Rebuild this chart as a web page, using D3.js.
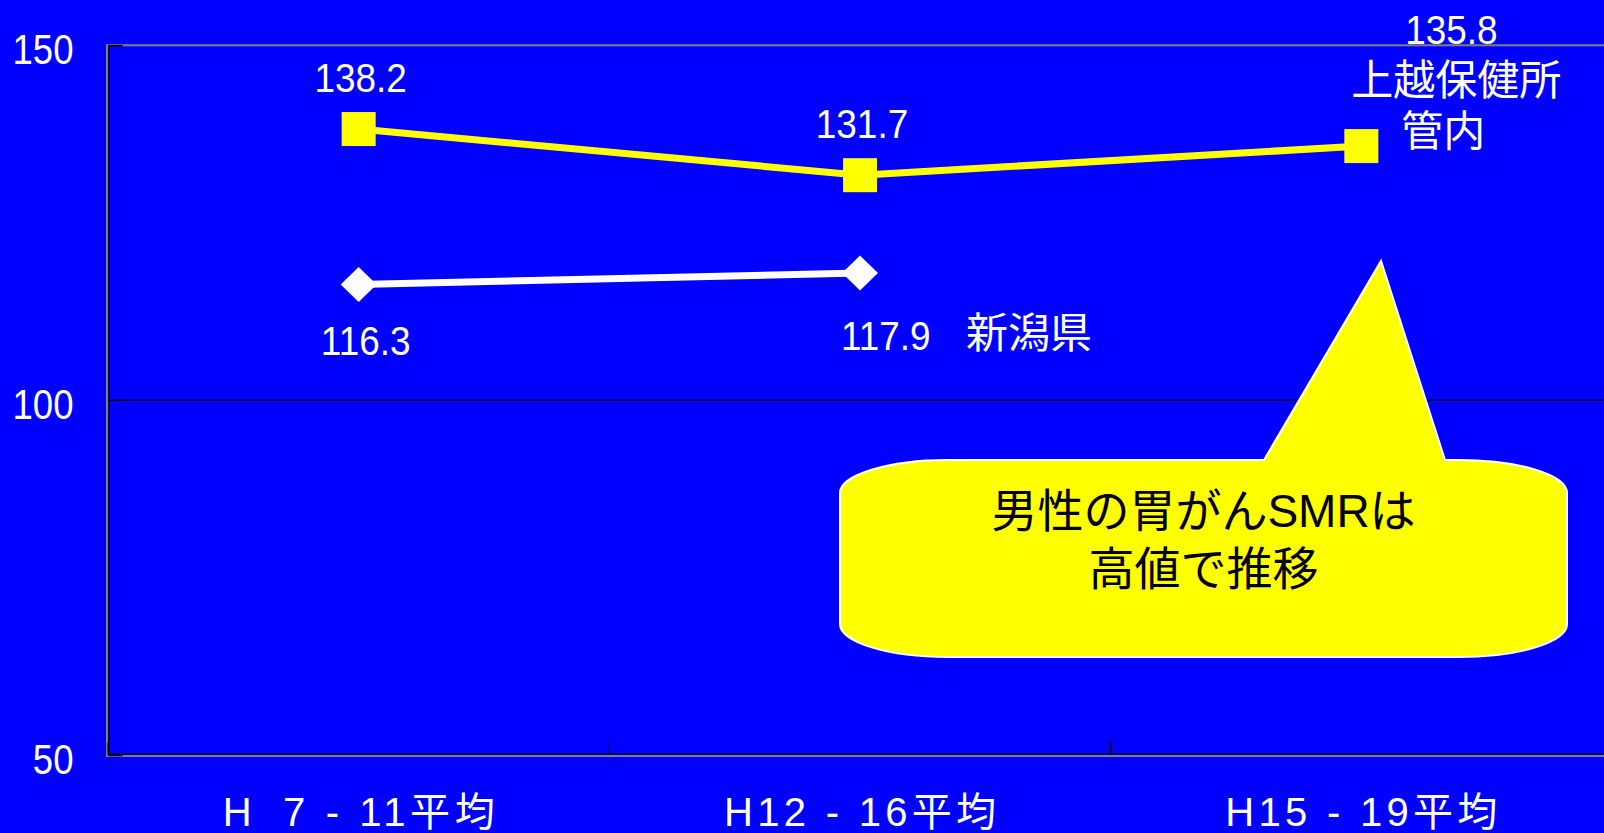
<!DOCTYPE html>
<html><head><meta charset="utf-8">
<script src="https://cdn.jsdelivr.net/npm/d3@7"></script>
<style>
html,body{margin:0;padding:0;background:#0000FF;overflow:hidden}
svg{display:block}
text{font-family:"Liberation Sans",Arial,"Noto Sans CJK JP",sans-serif}
</style></head><body>
<svg id="chart" width="1604" height="833"></svg>
<script>
// ---- data ----
const categories = ["H\u20077 - 11平均", "H12 - 16平均", "H15 - 19平均"];
const joetsuValues = [138.2, 131.7, 135.8];
const niigataValues = [116.3, 117.9, null];
const joetsuNameLines = ["上越保健所", "管内"];
const niigataName = "新潟県";
const yTicks = [50, 100, 150];
const calloutLines = ["男性の胃がんSMRは", "高値で推移"];

// ---- layout ----
const W = 1604, H = 833;
const plot = {left: 108, top: 45.3, right: 1612, bottom: 755};
const FONT = '"Liberation Sans", Arial, "Noto Sans CJK JP", sans-serif';
const BLUE = "#0000FF", YELLOW = "#FFFF00", WHITE = "#FFFFFF";

const svg = d3.select("#chart");
svg.append("rect").attr("width", W).attr("height", H).attr("fill", BLUE);

const x = d3.scaleBand().domain(categories).range([plot.left, plot.right]);
const y = d3.scaleLinear().domain([50, 150]).range([plot.bottom, plot.top]);
const cx = c => x(c) + x.bandwidth() / 2;

function squeeze(sel, f) {
  sel.each(function () {
    const w = this.getComputedTextLength();
    this.setAttribute("textLength", w * f);
    this.setAttribute("lengthAdjust", "spacingAndGlyphs");
  });
}

// frame
svg.append("rect")
  .attr("x", plot.left - 1).attr("y", plot.top)
  .attr("width", plot.right - plot.left + 1).attr("height", plot.bottom - plot.top + 1)
  .attr("fill", "none").attr("stroke", "#808080").attr("stroke-width", 2);

// gridline at 100
svg.append("line")
  .attr("x1", plot.left).attr("x2", plot.right)
  .attr("y1", y(100)).attr("y2", y(100))
  .attr("stroke", "#000").attr("stroke-width", 1.2);

// y axis
const yAxis = svg.append("g")
  .attr("transform", `translate(${plot.left + 0.5},0)`)
  .call(d3.axisLeft(y).tickValues(yTicks).tickSize(-14).tickPadding(35).tickFormat(d3.format("d")));
yAxis.select(".domain").attr("stroke", "#000").attr("stroke-width", 1.5);
yAxis.selectAll(".tick line").attr("stroke", "#000");
yAxis.selectAll("text")
  .attr("fill", WHITE).attr("font-size", 42).attr("font-family", FONT).attr("dy", 18);
squeeze(yAxis.selectAll("text"), 0.87);

// x axis baseline (black) and boundary ticks
svg.append("line")
  .attr("x1", plot.left).attr("x2", plot.right)
  .attr("y1", plot.bottom - 1).attr("y2", plot.bottom - 1)
  .attr("stroke", "#000").attr("stroke-width", 1.2);
const bounds = categories.map(c => x(c)).concat([plot.right]);
svg.selectAll(".xbound").data(bounds).enter().append("line")
  .attr("x1", d => d).attr("x2", d => d)
  .attr("y1", plot.bottom).attr("y2", plot.bottom - 13)
  .attr("stroke", "#000").attr("stroke-width", 1.2);

// x labels
const xAxis = svg.append("g")
  .attr("transform", `translate(0,${plot.bottom})`)
  .call(d3.axisBottom(x).tickSize(0).tickPadding(0));
xAxis.select(".domain").remove();
xAxis.selectAll("text")
  .attr("fill", WHITE).attr("font-size", 40).attr("font-family", FONT)
  .attr("y", 71).attr("dy", 0)
  .attr("textLength", 272).attr("lengthAdjust", "spacing")
  .style("white-space", "pre");

// lines
const lineGen = d3.line()
  .defined(d => d.v != null)
  .x(d => cx(d.c)).y(d => y(d.v));
const joetsu = categories.map((c, i) => ({c, v: joetsuValues[i]}));
const niigata = categories.map((c, i) => ({c, v: niigataValues[i]}));

svg.append("path").datum(niigata).attr("d", lineGen)
  .attr("fill", "none").attr("stroke", WHITE).attr("stroke-width", 7);
svg.append("path").datum(joetsu).attr("d", lineGen)
  .attr("fill", "none").attr("stroke", YELLOW).attr("stroke-width", 7);

// markers
svg.selectAll(".sq").data(joetsu.filter(d => d.v != null)).enter().append("rect")
  .attr("x", d => cx(d.c) - 17).attr("y", d => y(d.v) - 17)
  .attr("width", 34).attr("height", 34).attr("fill", YELLOW);
svg.selectAll(".dm").data(niigata.filter(d => d.v != null)).enter().append("path")
  .attr("d", d => {
    const px = cx(d.c), py = y(d.v);
    return `M${px},${py - 17.5}L${px + 18},${py}L${px},${py + 17.5}L${px - 18},${py}Z`;
  })
  .attr("fill", WHITE);

// data labels
const labels = svg.append("g").attr("fill", WHITE).attr("font-family", FONT);
const numLabels = [];
joetsu.forEach((d, i) => {
  if (i < 2) {
    numLabels.push(labels.append("text").attr("x", cx(d.c) + 2).attr("y", y(d.v) - 37)
      .attr("text-anchor", "middle").attr("font-size", 41).text(d.v.toFixed(1)).node());
  } else {
    numLabels.push(labels.append("text").attr("x", cx(d.c) + 90).attr("y", y(d.v) - 102)
      .attr("text-anchor", "middle").attr("font-size", 41).text(d.v.toFixed(1)).node());
    labels.append("text").attr("x", cx(d.c) + 95).attr("y", y(d.v) - 51)
      .attr("text-anchor", "middle").attr("font-size", 42).text(joetsuNameLines[0]);
    labels.append("text").attr("x", cx(d.c) + 82).attr("y", y(d.v) + 0)
      .attr("text-anchor", "middle").attr("font-size", 42).text(joetsuNameLines[1]);
  }
});
niigata.forEach((d, i) => {
  if (d.v == null) return;
  if (i === 0) {
    numLabels.push(labels.append("text").attr("x", cx(d.c) + 7).attr("y", y(d.v) + 71)
      .attr("text-anchor", "middle").attr("font-size", 41).text(d.v.toFixed(1)).node());
  } else {
    numLabels.push(labels.append("text").attr("x", cx(d.c) - 19).attr("y", y(d.v) + 77)
      .attr("text-anchor", "start").attr("font-size", 41).text(d.v.toFixed(1)).node());
    labels.append("text").attr("x", cx(d.c) + 106).attr("y", y(d.v) + 75)
      .attr("text-anchor", "start").attr("font-size", 42).text(niigataName);
  }
});
squeeze(d3.selectAll(numLabels), 0.9);

// callout
const body = {l: 840, t: 460, r: 1567, b: 657, rx: 108, ry: 33};
const tail = {x1: 1264, x2: 1445, ax: 1381, ay: 261};
const calloutPath = [
  `M${body.l + body.rx},${body.t}`,
  `L${tail.x1},${body.t}`, `L${tail.ax},${tail.ay}`, `L${tail.x2},${body.t}`,
  `L${body.r - body.rx},${body.t}`,
  `A${body.rx} ${body.ry} 0 0 1 ${body.r},${body.t + body.ry}`,
  `L${body.r},${body.b - body.ry}`,
  `A${body.rx} ${body.ry} 0 0 1 ${body.r - body.rx},${body.b}`,
  `L${body.l + body.rx},${body.b}`,
  `A${body.rx} ${body.ry} 0 0 1 ${body.l},${body.b - body.ry}`,
  `L${body.l},${body.t + body.ry}`,
  `A${body.rx} ${body.ry} 0 0 1 ${body.l + body.rx},${body.t}`, "Z"
].join("");
svg.append("path").attr("d", calloutPath)
  .attr("fill", YELLOW).attr("stroke", WHITE).attr("stroke-width", 2);
svg.selectAll(".callout").data(calloutLines).enter().append("text")
  .attr("x", (body.l + body.r) / 2).attr("y", (d, i) => 527 + i * 58)
  .attr("text-anchor", "middle").attr("font-size", 46).attr("font-family", FONT)
  .attr("fill", "#000").text(d => d);
</script>
</body></html>
